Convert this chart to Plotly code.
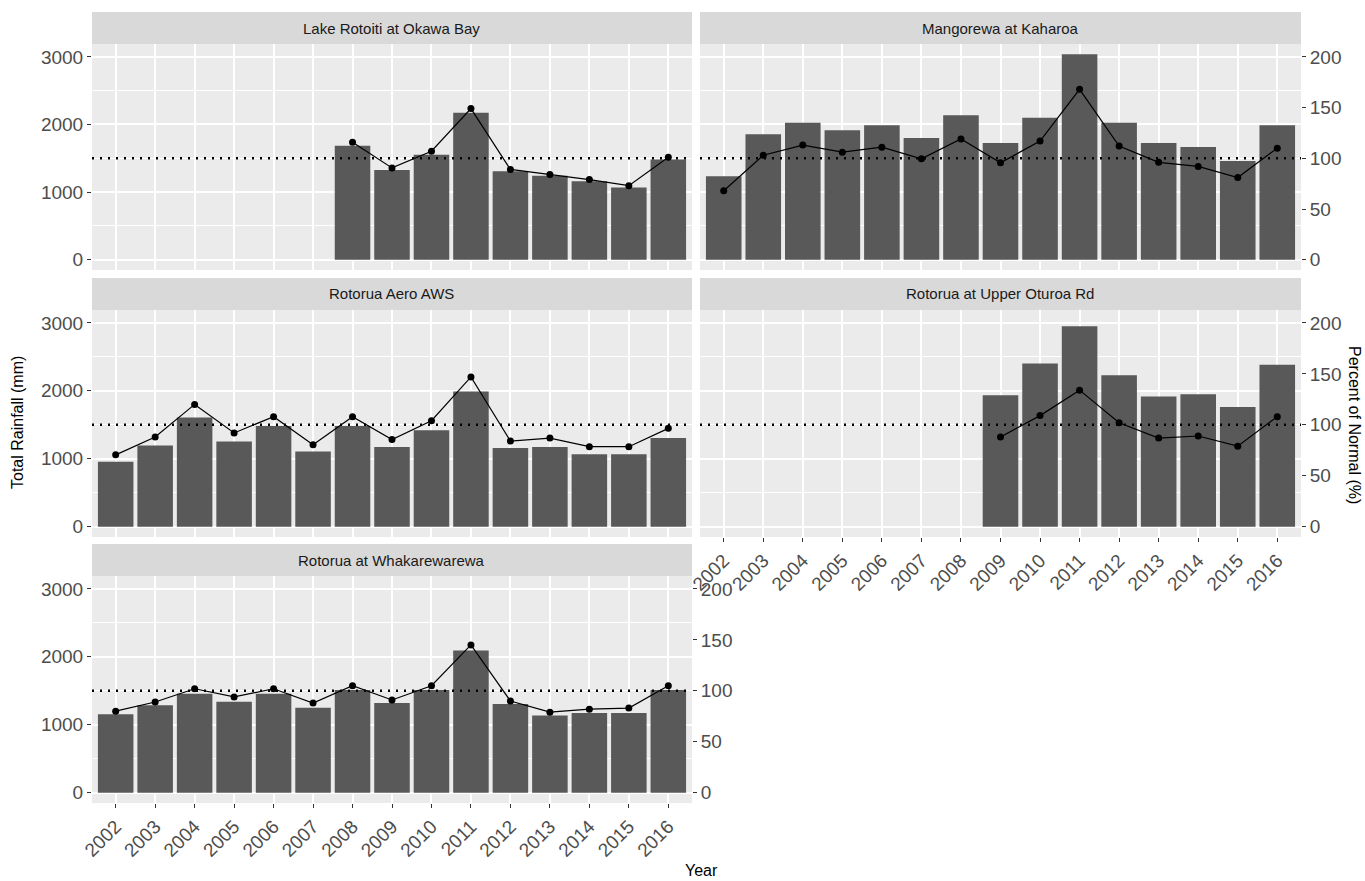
import plotly.graph_objects as go

# rainfall data
years = list(range(2002, 2017))

rotoiti_mm = [None] * 6 + [1687, 1328, 1554, 2174, 1308, 1240, 1161, 1068, 1481]
rotoiti_pct = [None] * 6 + [115.7, 90.5, 107, 149, 89, 84, 79, 73, 101]

mangorewa_mm = [1235, 1855, 2027, 1913, 1987, 1800, 2135, 1726, 2100, 3040, 2027, 1726, 1668, 1461, 1987]
mangorewa_pct = [68, 103, 113, 106, 111, 99.5, 119, 95.5, 117, 168, 112, 96, 92, 81, 110]

aero_mm = [957, 1194, 1609, 1254, 1481, 1105, 1481, 1174, 1421, 1989, 1160, 1174, 1066, 1066, 1307]
aero_pct = [70.5, 88, 120, 92, 108, 80.5, 108, 85.5, 104, 147, 84, 87, 78.5, 78.5, 96.5]

oturoa_mm = [None] * 7 + [1934, 2404, 2951, 2231, 1915, 1949, 1762, 2384]
oturoa_pct = [None] * 7 + [88, 109, 134, 102, 87, 89, 79, 108]

whaka_mm = [1153, 1286, 1458, 1340, 1458, 1251, 1512, 1320, 1512, 2094, 1305, 1138, 1172, 1172, 1512]
whaka_pct = [80, 89, 102, 94, 102, 88, 105, 91, 105, 145, 90, 79, 82, 83, 105]

sites = ["Lake Rotoiti at Okawa Bay", "Mangorewa at Kaharoa", "Rotorua Aero AWS",
         "Rotorua at Upper Oturoa Rd", "Rotorua at Whakarewarewa"]
site_mm = [rotoiti_mm, mangorewa_mm, aero_mm, oturoa_mm, whaka_mm]
site_pct = [rotoiti_pct, mangorewa_pct, aero_pct, oturoa_pct, whaka_pct]
normal_pct = 100
mm_per_pct = 15

W, H = 1365, 881
col_px = [(92, 692), (700, 1301)]
row_px = [(44, 270), (310, 537), (576, 803)]
strip_h = 32
y_rng = [-152, 3190]
y2_rng = [v / mm_per_pct for v in y_rng]

TICK = dict(family="Liberation Sans, Arial", size=19, color="#4D4D4D")

fig = go.Figure()
layout = {}
shapes = []
annotations = []

for i, name in enumerate(sites):
    r, c = divmod(i, 2)
    xa = f"x{i + 1}" if i else "x"
    ya = f"y{2 * i + 1}" if i else "y"
    ya2 = f"y{2 * i + 2}"
    xkey = f"xaxis{i + 1}" if i else "xaxis"
    ykey = f"yaxis{2 * i + 1}" if i else "yaxis"
    y2key = f"yaxis{2 * i + 2}"

    x0, x1 = col_px[c][0] / W, col_px[c][1] / W
    top, bot = row_px[r]
    yd = [1 - bot / H, 1 - top / H]

    bottom_panel = (i == 4) or (i == 3)
    right_axis = (c == 1) or (i == 4)

    fig.add_trace(go.Bar(x=years, y=site_mm[i], width=0.9, marker=dict(color="#595959", line_width=0),
                         xaxis=xa, yaxis=ya, showlegend=False))
    fig.add_trace(go.Scatter(x=years, y=site_pct[i], mode="lines+markers",
                             line=dict(color="black", width=1.2), marker=dict(color="black", size=7),
                             connectgaps=False, xaxis=xa, yaxis=ya2, showlegend=False))

    layout[xkey] = dict(domain=[x0, x1], anchor=ya, range=[2001.4, 2016.6], automargin=False,
                        tickvals=years, ticktext=[str(y) for y in years],
                        showticklabels=bottom_panel, ticks="outside" if bottom_panel else "",
                        ticklen=4, tickcolor="#333333", tickangle=-45, tickfont=TICK,
                        showgrid=True, gridcolor="white", gridwidth=1.5, zeroline=False,
                        showline=False, fixedrange=True)
    layout[ykey] = dict(domain=yd, anchor=xa, range=y_rng, tickvals=[0, 1000, 2000, 3000],
                        automargin=False,
                        showticklabels=(c == 0), ticks="outside" if c == 0 else "",
                        ticklen=4, tickcolor="#333333", tickfont=TICK,
                        showgrid=True, gridcolor="white", gridwidth=1.5,
                        minor=dict(tickvals=[500, 1500, 2500], showgrid=True, gridcolor="white", gridwidth=0.7),
                        zeroline=False, showline=False)
    layout[y2key] = dict(overlaying=ya, anchor=xa, side="right", range=y2_rng, automargin=False,
                         tickvals=[0, 50, 100, 150, 200], showgrid=False, zeroline=False,
                         showticklabels=right_axis, ticks="outside" if right_axis else "",
                         ticklen=4, tickcolor="#333333", tickfont=TICK)

    shapes.append(dict(type="line", xref=f"{xa} domain", yref=ya2, x0=0, x1=1,
                       y0=normal_pct, y1=normal_pct, layer="above",
                       line=dict(color="black", width=2.5, dash="2px,6px")))
    shapes.append(dict(type="rect", xref="paper", yref="paper", x0=x0, x1=x1,
                       y0=1 - top / H, y1=1 - (top - strip_h) / H,
                       fillcolor="#D9D9D9", line_width=0, layer="below"))
    annotations.append(dict(x=(x0 + x1) / 2, y=1 - (top - strip_h / 2) / H, xref="paper", yref="paper",
                            text=name, showarrow=False, xanchor="center", yanchor="middle",
                            font=dict(family="Liberation Sans, Arial", size=15, color="#1A1A1A")))

TITLE = dict(family="Liberation Sans, Arial", size=16, color="black")
annotations += [
    dict(x=18 / W, y=1 - 423 / H, xref="paper", yref="paper", text="Total Rainfall (mm)",
         textangle=-90, showarrow=False, font=TITLE, xanchor="center", yanchor="middle"),
    dict(x=1355 / W, y=1 - 425 / H, xref="paper", yref="paper", text="Percent of Normal (%)",
         textangle=90, showarrow=False, font=TITLE, xanchor="center", yanchor="middle"),
    dict(x=702 / W, y=1 - 870 / H, xref="paper", yref="paper", text="Year",
         showarrow=False, font=TITLE, xanchor="center", yanchor="middle"),
]

fig.update_layout(
    width=W, height=H,
    margin=dict(l=0, r=0, t=0, b=0, autoexpand=False),
    paper_bgcolor="white", plot_bgcolor="#EBEBEB",
    bargap=0.1, barmode="overlay",
    shapes=shapes, annotations=annotations,
    **layout,
)

# the page's default body margin would shift the figure by 8px
fig.write_html("out.html", config={"displayModeBar": False},
               post_script="document.body.style.margin='0px';document.body.style.overflow='hidden';")
